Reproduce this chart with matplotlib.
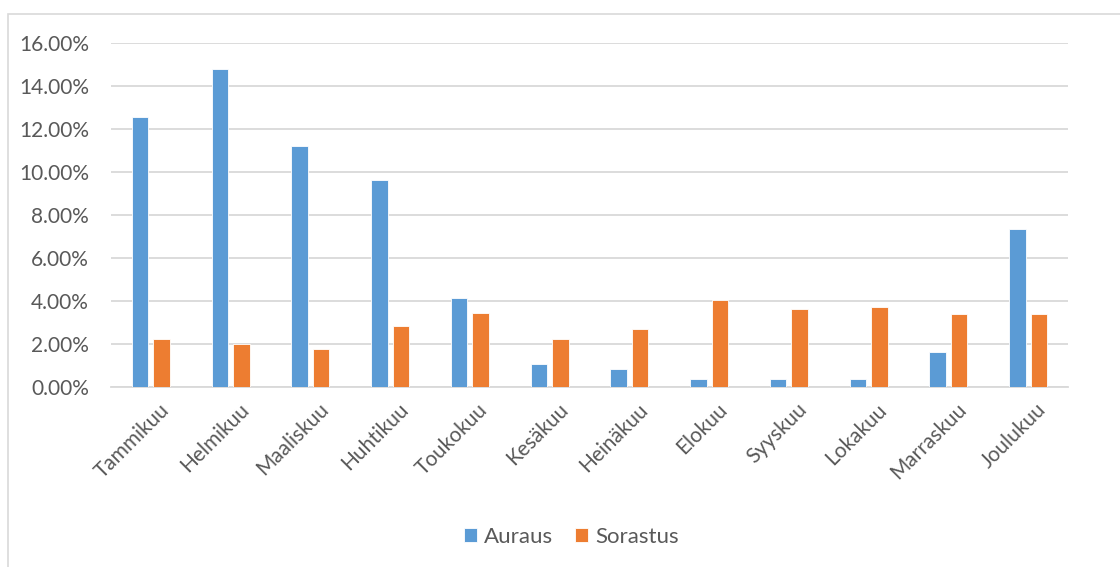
import matplotlib.pyplot as plt
import numpy as np
from matplotlib.patches import Rectangle
from matplotlib.ticker import PercentFormatter
from matplotlib.transforms import ScaledTranslation

plt.rcParams['font.family'] = ['Lato', 'DejaVu Sans']

months = ["Tammikuu", "Helmikuu", "Maaliskuu", "Huhtikuu", "Toukokuu", "Kesäkuu",
          "Heinäkuu", "Elokuu", "Syyskuu", "Lokakuu", "Marraskuu", "Joulukuu"]
auraus = [12.55, 14.81, 11.20, 9.61, 4.16, 1.07, 0.85, 0.36, 0.37, 0.39, 1.61, 7.34]
sorastus = [2.25, 2.00, 1.79, 2.83, 3.46, 2.25, 2.69, 4.04, 3.62, 3.74, 3.39, 3.40]
yticks = [0, 2, 4, 6, 8, 10, 12, 14, 16]

W, H = 1120, 567
fig = plt.figure(figsize=(W / 100, H / 100), dpi=100)
ax = fig.add_axes([111 / W, 1 - 387 / H, (1068 - 111) / W, (387 - 43) / H])

# chart frame
fig.patches.append(Rectangle((8 / W, -0.05), 1.2, 1 - 14 / H + 0.05,
                             transform=fig.transFigure, fill=False,
                             edgecolor="#d9d9d9", linewidth=1.2))

x = np.arange(len(months))
w = 0.208
off = 0.134
ax.bar(x - off, auraus, w, color="#5b9bd5", edgecolor="white", linewidth=0.6,
       label="Auraus", zorder=3)
ax.bar(x + off, sorastus, w, color="#ed7d31", edgecolor="white", linewidth=0.6,
       label="Sorastus", zorder=3)

ax.set_xlim(-0.5, 11.5)
ax.set_ylim(0, 16)
ax.set_yticks(yticks)
ax.yaxis.set_major_formatter(PercentFormatter(decimals=2))
ax.grid(axis="y", color="#d9d9d9", linewidth=1.3, zorder=0)
for s in ["top", "right", "left"]:
    ax.spines[s].set_visible(False)
ax.spines["bottom"].set_color("#d9d9d9")
ax.spines["bottom"].set_linewidth(1.3)
ax.tick_params(axis="both", length=0, labelsize=15, colors="#595959")
ax.tick_params(axis="y", pad=16)
ax.set_xticks(x)
ax.set_xticklabels(months, rotation=45, ha="right", rotation_mode="anchor")
ax.tick_params(axis="x", pad=9)
# nudge month labels to the right so they end under the bar pair
shift = ScaledTranslation(8 / 100, 0, fig.dpi_scale_trans)
for lbl in ax.get_xticklabels():
    lbl.set_transform(lbl.get_transform() + shift)

fig.legend(loc="center", bbox_to_anchor=(0.51, 1 - 537 / H), ncol=2, frameon=False,
           fontsize=16, labelcolor="#595959", handlelength=0.6, handleheight=0.6,
           handletextpad=0.3, columnspacing=1.0)

fig.savefig("out.png", dpi=100)
